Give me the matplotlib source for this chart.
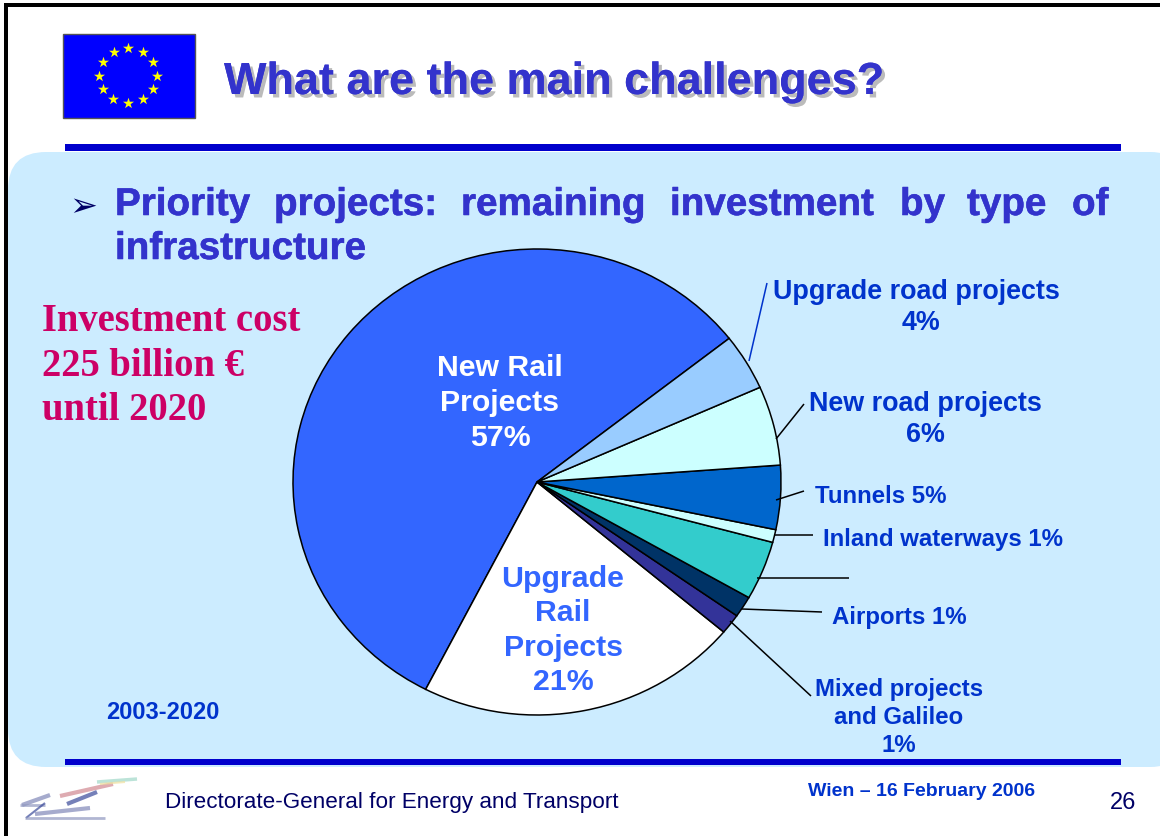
#!/usr/bin/env python3
"""Priority projects slide: remaining investment by type of infrastructure."""

import numpy as np
import matplotlib
matplotlib.use('Agg')
import matplotlib.pyplot as plt
import matplotlib.patheffects as pe
from matplotlib.patches import FancyBboxPatch, Rectangle

plt.rcParams['font.family'] = ['Liberation Sans', 'DejaVu Sans']

W, H = 1160, 837

# DATA
categories = ['New Rail Projects', 'Upgrade Rail Projects', 'Mixed projects and Galileo',
              'Airports', 'Unlabelled', 'Inland waterways', 'Tunnels',
              'New road projects', 'Upgrade road projects']
shares = [56.89, 21.41, 1.40, 1.47, 4.09, 0.89, 4.44, 5.50, 3.91]
slice_colors = ['#3366FF', '#FFFFFF', '#333399', '#003366', '#33CCCC',
                '#CCFFFF', '#0066CC', '#CCFFFF', '#99CCFF']
bullet_words = ['Priority', 'projects:', 'remaining', 'investment', 'by', 'type', 'of']
bullet_x = [115, 274, 461, 670, 900, 967, 1072]

BLUE = '#3333CC'
LABEL = '#0033CC'
NAVY = '#000066'


def py(y):
    """Pixel row from the top to axes y."""
    return H - y


def put(ax, x, y, s, **kw):
    kw.setdefault('va', 'baseline')
    return ax.text(x, py(y), s, **kw)


def heavy(color, width=0.4):
    return [pe.withStroke(linewidth=width, foreground=color)]


fig = plt.figure(figsize=(W / 100, H / 100), dpi=100, facecolor='white')
bg = fig.add_axes([0, 0, 1, 1])
bg.set_xlim(0, W)
bg.set_ylim(0, H)
bg.axis('off')

# slide frame and panel
bg.add_patch(FancyBboxPatch((8 + 38, py(768) + 38), 1180 - 76, 615 - 76,
                            boxstyle='round,pad=38,rounding_size=38',
                            fc='#CCECFF', ec='none', zorder=1))
bg.add_patch(Rectangle((4, py(837)), 4, 833, fc='black', ec='none', zorder=2))
bg.add_patch(Rectangle((4, py(8)), W, 4, fc='black', ec='none', zorder=2))
bg.add_patch(Rectangle((65, py(152)), 1056, 7, fc='#0000CC', ec='none', zorder=2))
bg.add_patch(Rectangle((65, py(766)), 1056, 6, fc='#0000CC', ec='none', zorder=2))

# flag
bg.add_patch(Rectangle((62.5, py(119)), 132, 84.5, fc='#0000FF', ec='#555555', lw=1, zorder=2))
star_angles = np.deg2rad(np.arange(0, 360, 30))
bg.scatter(128 + 29 * np.cos(star_angles), py(76.5) + 27.5 * np.sin(star_angles),
           marker='*', s=70, c='#FFFF00', linewidths=0, zorder=3)

# title and bullet
put(bg, 224, 95, 'What are the main challenges?', fontsize=32.4, fontweight='bold', color=BLUE,
    zorder=4, path_effects=[pe.withSimplePatchShadow(offset=(2.5, -2.5), shadow_rgbFace='#AAAAAA', alpha=0.8),
                            pe.Normal()])
put(bg, 69, 216, '\u27a2', fontsize=24, color=NAVY, family='DejaVu Sans', zorder=4)
for word, x in zip(bullet_words, bullet_x):
    put(bg, x, 216, word, fontsize=27.8, fontweight='bold', color=BLUE, zorder=4, path_effects=heavy(BLUE))
put(bg, 115, 260, 'infrastructure', fontsize=27.8, fontweight='bold', color=BLUE, zorder=4, path_effects=heavy(BLUE))

# investment note
for y, line in zip([331, 376, 420], ['Investment cost', '225 billion \u20ac', 'until 2020']):
    put(bg, 42, y, line, fontsize=27.8, fontweight='bold', color='#CC0066',
        family='Liberation Serif', zorder=4)

# pie, drawn slightly squashed like the slide
pie_ax = fig.add_axes([(537 - 250) / W, (py(483) - 250) / H, 500 / W, 500 / H])
pie_ax.pie(shares, colors=slice_colors, startangle=38.05, radius=244,
           wedgeprops={'edgecolor': 'black', 'linewidth': 1.1})
pie_ax.set_aspect('auto')
pie_ax.set_xlim(-250, 250)
pie_ax.set_ylim(-250 * 244 / 233, 250 * 244 / 233)
pie_ax.patch.set_alpha(0)
pie_ax.set_zorder(2)

# leader lines, on a top layer
top = fig.add_axes([0, 0, 1, 1], zorder=5)
top.set_xlim(0, W)
top.set_ylim(0, H)
top.axis('off')
leaders = [((749, 362), (767, 284), LABEL), ((776, 440), (804, 405), 'black'),
           ((776, 501), (804, 492), 'black'), ((775, 535.5), (813, 535.5), 'black'),
           ((757, 578.5), (849, 578.5), 'black'), ((742, 610), (822, 613), 'black'),
           ((730, 622), (811, 697), 'black')]
for a, b, c in leaders:
    top.plot([a[0], b[0]], [py(a[1]), py(b[1])], color=c, lw=1.1, solid_capstyle='butt')

# slice labels
for y, line in zip([376, 411, 446], ['New Rail', 'Projects', '57%']):
    put(top, 500, y, line, fontsize=21.8, fontweight='bold', color='white', ha='center')
for y, line in zip([587, 621, 656, 690], ['Upgrade', 'Rail', 'Projects', '21%']):
    put(top, 563, y, line, fontsize=21.8, fontweight='bold', color='#3366FF', ha='center')

outer_labels = [(916, 299, 'Upgrade road projects', 19.4), (921, 330, '4%', 19.4),
                (925, 411, 'New road projects', 19.4), (925, 442, '6%', 19.4),
                (881, 503, 'Tunnels 5%', 17.3), (943, 546, 'Inland waterways 1%', 17.3),
                (899, 624, 'Airports 1%', 17.3), (899, 696, 'Mixed projects', 17.3),
                (899, 724, 'and Galileo', 17.3), (899, 752, '1%', 17.3)]
for x, y, line, size in outer_labels:
    put(top, x, y, line, fontsize=size, fontweight='bold', color=LABEL, ha='center')
put(top, 106, 719, '2003-2020', fontsize=17, fontweight='bold', color=LABEL)

# footer
put(top, 165, 808, 'Directorate-General for Energy and Transport', fontsize=16.2, color=NAVY)
put(top, 808, 796, 'Wien \u2013 16 February 2006', fontsize=14, fontweight='bold', color=LABEL)
put(top, 1110, 809, '26', fontsize=17, color=NAVY)

# logo streaks
streaks = [((60, 797), (113, 785), '#D08890', 3), ((97, 783), (137, 780), '#A0D8C8', 2.5),
           ((100, 785), (125, 783), '#F0E0A0', 1.5), ((67, 805), (97, 793), '#3A4A9A', 3),
           ((22, 806), (50, 796), '#8088B8', 3), ((20, 806), (45, 806), '#9098C0', 2),
           ((26, 819), (45, 804), '#3A4A9A', 1.5), ((35, 815), (90, 809), '#8088B8', 3),
           ((25, 819), (105, 819), '#9098C0', 2)]
for a, b, c, lw in streaks:
    top.plot([a[0], b[0]], [py(a[1]), py(b[1])], color=c, lw=lw, alpha=0.7, solid_capstyle='butt')

fig.savefig('out.png', dpi=100)
